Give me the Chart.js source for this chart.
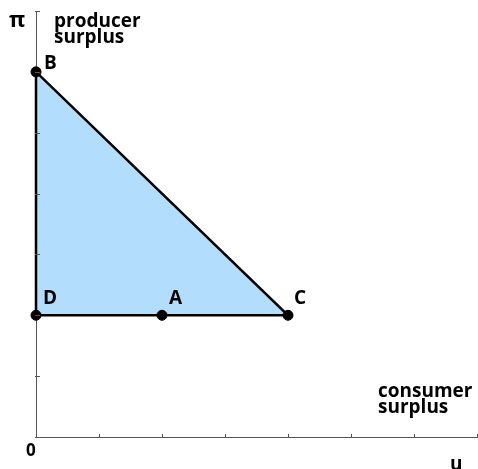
<!DOCTYPE html>
<html>
<head>
<meta charset="utf-8">
<script src="https://cdn.jsdelivr.net/npm/chart.js@4"></script>
<style>
  html, body { margin: 0; padding: 0; background: #fff; }
  #wrap { width: 478px; height: 469px; }
</style>
</head>
<body>
<div id="wrap"><canvas id="surplusChart" width="478" height="469"></canvas></div>
<script>
// ---- data ----
const axisTicks = [0, 1, 2, 3, 4, 5, 6, 7];
const pointNames = ['B', 'D', 'A', 'C'];
const pointX = [0, 0, 2, 4];
const pointY = [6, 2, 2, 2];
// triangle D -> B -> C -> D
const regionX = [0, 0, 4, 0];
const regionY = [2, 6, 2, 2];

const labelFont = 'bold 19px "Open Sans", sans-serif';

// small tick marks drawn inside the axes
const tickMarks = {
  id: 'tickMarks',
  afterDatasetsDraw(chart) {
    const { ctx, scales: { x, y } } = chart;
    ctx.save();
    ctx.strokeStyle = '#555';
    ctx.lineWidth = 1;
    axisTicks.forEach(v => {
      const px = Math.round(x.getPixelForValue(v)) + 0.5;
      const py = Math.round(y.getPixelForValue(v)) + 0.5;
      ctx.beginPath();
      ctx.moveTo(px, y.bottom - 3);
      ctx.lineTo(px, y.bottom + 1);
      ctx.moveTo(x.left - 1, py);
      ctx.lineTo(x.left + 4, py);
      ctx.stroke();
    });
    ctx.restore();
  }
};

// point names + axis captions
const textLabels = {
  id: 'textLabels',
  afterDraw(chart) {
    const { ctx, scales: { x, y } } = chart;
    ctx.save();
    ctx.fillStyle = '#000';
    ctx.font = labelFont;
    ctx.textBaseline = 'alphabetic';
    const offs = { B: [8, -3], D: [7, -11], A: [7, -11], C: [6, -11] };
    pointNames.forEach((n, i) => {
      const px = x.getPixelForValue(pointX[i]);
      const py = y.getPixelForValue(pointY[i]);
      ctx.fillText(n, px + offs[n][0], py + offs[n][1]);
    });
    ctx.fillText('producer', 54, 27);
    ctx.fillText('surplus', 54, 43);
    ctx.fillText('consumer', 378, 397);
    ctx.fillText('surplus', 378, 413);
    ctx.fillText('u', 450, 470);
    ctx.font = 'bold 17px "Open Sans", sans-serif';
    ctx.fillText('0', 26, 456);
    ctx.font = 'bold 22px "Open Sans", sans-serif';
    ctx.fillText('\u03c0', 9, 27);
    ctx.restore();
  }
};

new Chart(document.getElementById('surplusChart'), {
  type: 'scatter',
  data: {
    datasets: [
      {
        data: regionX.map((v, i) => ({ x: v, y: regionY[i] })),
        showLine: true,
        fill: 'shape',
        backgroundColor: '#b3ddfc',
        borderColor: '#000',
        borderWidth: 2.5,
        pointRadius: 0,
        tension: 0,
        clip: false,
        order: 2
      },
      {
        data: pointX.map((v, i) => ({ x: v, y: pointY[i] })),
        pointRadius: 5,
        pointBackgroundColor: '#000',
        pointBorderColor: '#000',
        showLine: false,
        clip: false,
        order: 1
      }
    ]
  },
  options: {
    responsive: false,
    animation: false,
    layout: { autoPadding: false, padding: { left: 36, right: 1, top: 11, bottom: 32 } },
    plugins: { legend: { display: false }, tooltip: { enabled: false } },
    scales: {
      x: {
        type: 'linear', min: 0, max: 7,
        ticks: { display: false },
        grid: { display: false },
        border: { display: true, color: '#555', width: 1 },
        afterFit: s => { s.height = 0; }
      },
      y: {
        type: 'linear', min: 0, max: 7,
        ticks: { display: false },
        grid: { display: false },
        border: { display: true, color: '#555', width: 1 },
        afterFit: s => { s.width = 0; }
      }
    }
  },
  plugins: [tickMarks, textLabels]
});
</script>
</body>
</html>
